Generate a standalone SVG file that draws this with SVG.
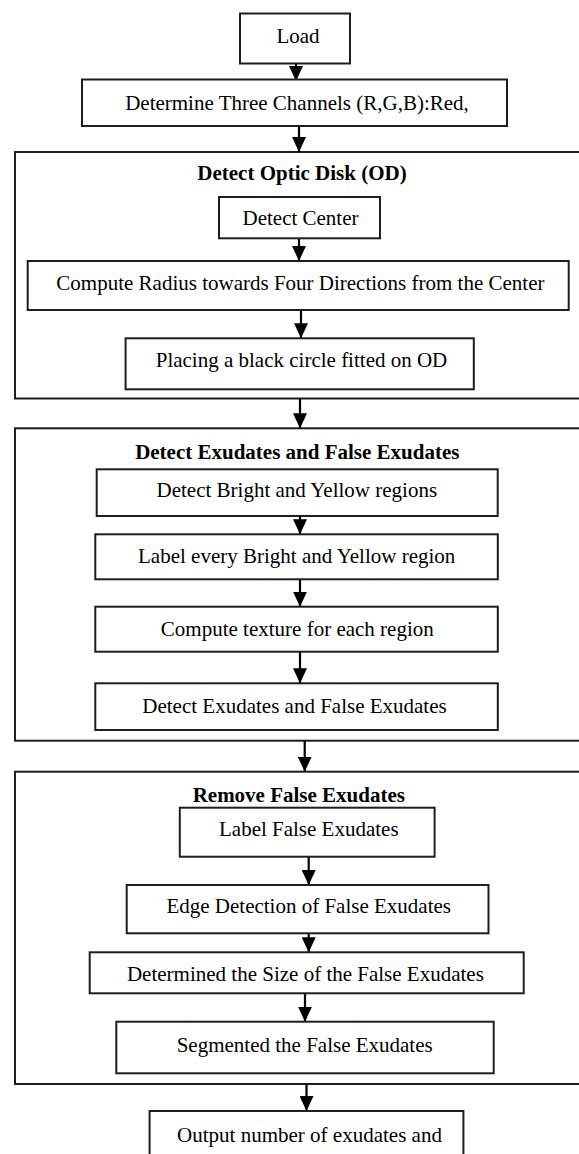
<svg xmlns="http://www.w3.org/2000/svg" width="579" height="1154" viewBox="0 0 579 1154">
<style>
.box{fill:#fff;stroke:#1e1e1e;stroke-width:2}
.sec{fill:none;stroke:#1e1e1e;stroke-width:2}
.t{font-family:"Liberation Serif","Times New Roman",serif;font-size:21px;fill:#000;text-anchor:middle}
.b{font-weight:bold}
.c{stroke:#000;stroke-width:2.2;fill:none;marker-end:url(#ah)}
</style>
<defs>
<marker id="ah" markerUnits="userSpaceOnUse" markerWidth="15" markerHeight="14" viewBox="0 0 15 14" refX="15" refY="7" orient="auto">
<path d="M0,0 L15,7 L0,14 z" fill="#000"/>
</marker>
</defs>
<rect width="579" height="1154" fill="#fff"/>
<g id="sections">
<rect id="sec-od" class="sec" x="15" y="152" width="600" height="246.5"/>
<rect id="sec-ex" class="sec" x="15" y="428.3" width="600" height="312.4"/>
<rect id="sec-rm" class="sec" x="15" y="771.7" width="600" height="312.3"/>
</g>
<g id="connectors">
<line class="c" x1="296" y1="63.5" x2="296" y2="81"/>
<line class="c" x1="299" y1="126" x2="299" y2="152"/>
<line class="c" x1="299" y1="238.3" x2="299" y2="261"/>
<line class="c" x1="301" y1="310" x2="301" y2="338.3"/>
<line class="c" x1="300" y1="398.5" x2="300" y2="428.3"/>
<line class="c" x1="300" y1="516" x2="300" y2="534.3"/>
<line class="c" x1="300" y1="579.3" x2="300" y2="606.7"/>
<line class="c" x1="300" y1="651.7" x2="300" y2="683.3"/>
<line class="c" x1="304.7" y1="740.7" x2="304.7" y2="771.7"/>
<line class="c" x1="308.7" y1="856.7" x2="308.7" y2="885"/>
<line class="c" x1="308.7" y1="933.3" x2="308.7" y2="952.3"/>
<line class="c" x1="305" y1="993.3" x2="305" y2="1021.7"/>
<line class="c" x1="306.5" y1="1084" x2="306.5" y2="1111"/>
</g>
<g id="load"><rect class="box" x="240" y="13.5" width="110" height="50"/><text class="t" x="298" y="43">Load</text></g>
<g id="channels"><rect class="box" x="82" y="79.5" width="425" height="46.5"/><text class="t" x="297" y="110">Determine Three Channels (R,G,B):Red,</text></g>
<g id="od-title"><text class="t b" x="302" y="180">Detect Optic Disk (OD)</text></g>
<g id="center"><rect class="box" x="219" y="197" width="161" height="41.3"/><text class="t" x="300.5" y="225">Detect Center</text></g>
<g id="radius"><rect class="box" x="27.7" y="261" width="541" height="49"/><text class="t" x="300.4" y="290">Compute Radius towards Four Directions from the Center</text></g>
<g id="circle"><rect class="box" x="125.6" y="338.3" width="348.2" height="51"/><text class="t" x="301.5" y="366.7">Placing a black circle fitted on OD</text></g>
<g id="ex-title"><text class="t b" x="297.3" y="459">Detect Exudates and False Exudates</text></g>
<g id="bright"><rect class="box" x="96.7" y="469.3" width="401" height="46.7"/><text class="t" x="296.8" y="497.3">Detect Bright and Yellow regions</text></g>
<g id="label-every"><rect class="box" x="95.3" y="534.3" width="402.5" height="45"/><text class="t" x="296.7" y="562.7">Label every Bright and Yellow region</text></g>
<g id="texture"><rect class="box" x="95.3" y="606.7" width="402.5" height="45"/><text class="t" x="297.3" y="636">Compute texture for each region</text></g>
<g id="detect-ex"><rect class="box" x="95.3" y="683.3" width="402.5" height="46.7"/><text class="t" x="294.5" y="712.7">Detect Exudates and False Exudates</text></g>
<g id="rm-title"><text class="t b" x="298.8" y="801.7">Remove False Exudates</text></g>
<g id="label-false"><rect class="box" x="179.8" y="807.7" width="254.8" height="49"/><text class="t" x="308.8" y="836">Label False Exudates</text></g>
<g id="edge"><rect class="box" x="126.7" y="885" width="361.8" height="48.3"/><text class="t" x="308.7" y="913.3">Edge Detection of False Exudates</text></g>
<g id="size"><rect class="box" x="89.7" y="952.3" width="434" height="41"/><text class="t" x="305.4" y="980.7">Determined the Size of the False Exudates</text></g>
<g id="segment"><rect class="box" x="116.3" y="1021.7" width="377.4" height="51.6"/><text class="t" x="304.7" y="1051.7">Segmented the False Exudates</text></g>
<g id="output"><rect class="box" x="149.6" y="1111" width="313.8" height="60"/><text class="t" x="309.5" y="1141.7">Output number of exudates and</text></g>
</svg>
